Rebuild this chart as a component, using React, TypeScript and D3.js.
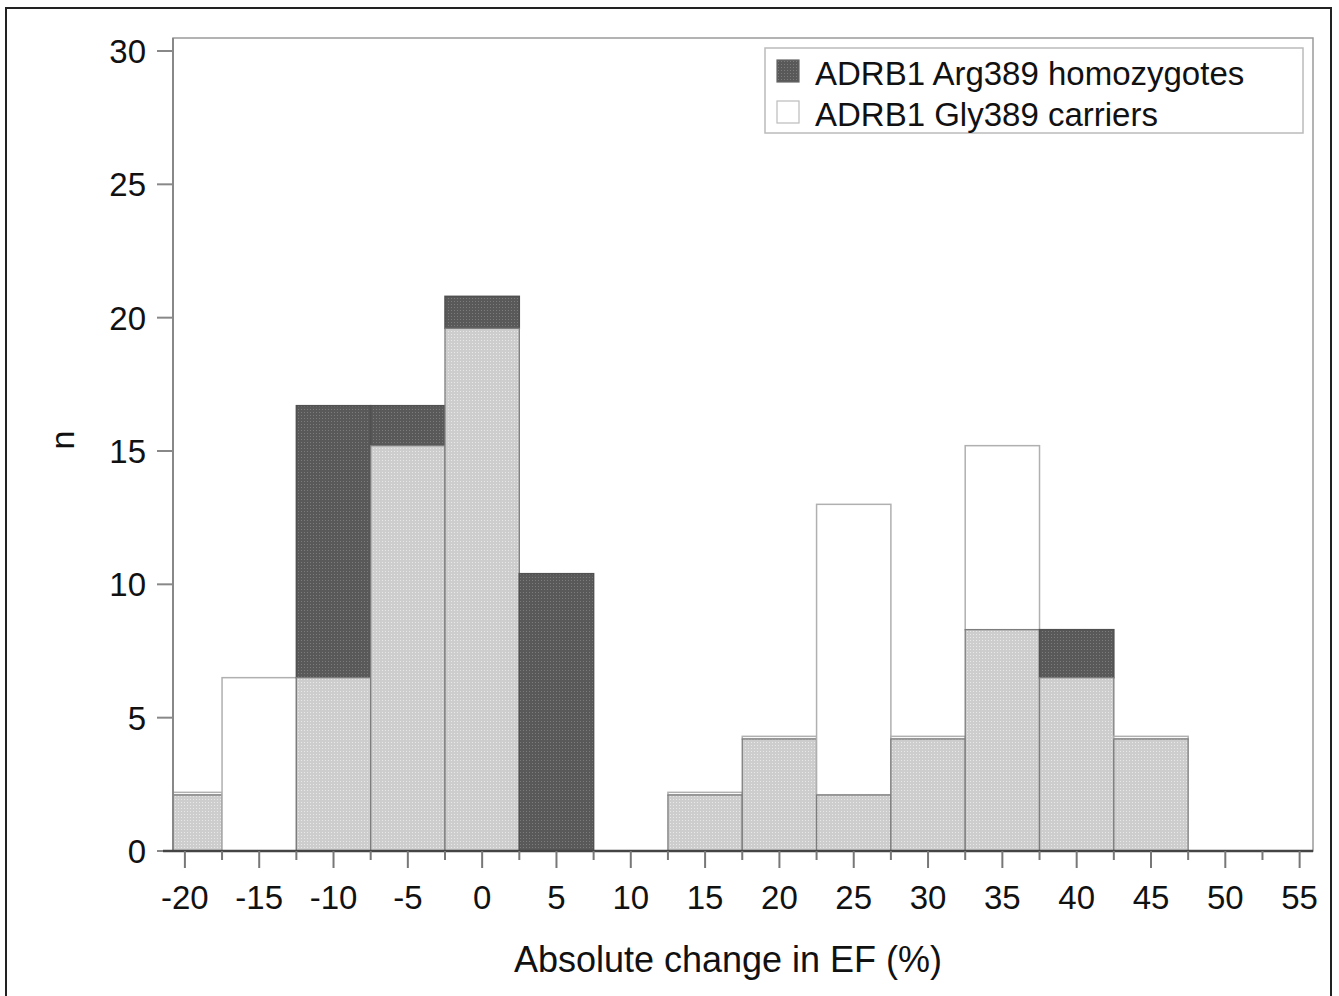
import React, { useEffect, useRef } from 'react'
import { select, scaleLinear, range } from 'd3'

// bin centres (%), bin width 5
const bins = [-20, -15, -10, -5, 0, 5, 10, 15, 20, 25, 30, 35, 40, 45, 50, 55]
// percent of each genotype group per bin
const argValues = [2.1, 0, 16.7, 16.7, 20.8, 10.4, 0, 2.1, 4.2, 2.1, 4.2, 8.3, 8.3, 4.2, 0, 0]
const glyValues = [2.2, 6.5, 6.5, 15.2, 19.6, 0, 0, 2.2, 4.3, 13.0, 4.3, 15.2, 6.5, 4.3, 0, 0]
const xTicks = [-20, -15, -10, -5, 0, 5, 10, 15, 20, 25, 30, 35, 40, 45, 50, 55]
const yTicks = [0, 5, 10, 15, 20, 25, 30]
const legendLabels = ['ADRB1 Arg389 homozygotes', 'ADRB1 Gly389 carriers']

function App() {
    const ref = useRef(null)

    useEffect(() => {
        const svg = select(ref.current)
        svg.selectAll('*').remove()

        const left = 173, right = 1313, top = 38, bottom = 851

        const x = scaleLinear().domain([-20.8, 55.9]).range([left, right])
        const y = scaleLinear().domain([0, 30]).range([bottom, 51])

        // stipple patterns
        const defs = svg.append('defs')
        const light = defs.append('pattern').attr('id', 'lightPat')
            .attr('patternUnits', 'userSpaceOnUse').attr('width', 3).attr('height', 3)
        light.append('rect').attr('width', 3).attr('height', 3).attr('fill', '#cdcdcd')
        light.append('rect').attr('x', 1).attr('y', 1).attr('width', 1).attr('height', 1).attr('fill', '#e8e8e8')
        const dark = defs.append('pattern').attr('id', 'darkPat')
            .attr('patternUnits', 'userSpaceOnUse').attr('width', 3).attr('height', 3)
        dark.append('rect').attr('width', 3).attr('height', 3).attr('fill', '#595959')
        dark.append('rect').attr('x', 1).attr('y', 1).attr('width', 1).attr('height', 1).attr('fill', '#7c7c7c')

        // outer frame
        svg.append('rect')
            .attr('x', 6).attr('y', 8).attr('width', 1325).attr('height', 1000)
            .attr('fill', 'none').attr('stroke', '#222').attr('stroke-width', 2)

        // plot frame
        svg.append('rect')
            .attr('x', left).attr('y', top).attr('width', right - left).attr('height', bottom - top)
            .attr('fill', '#fff').attr('stroke', '#9a9a9a').attr('stroke-width', 1.5)

        const clamp = v => Math.max(left, Math.min(right, v))
        const g = svg.append('g')

        bins.forEach((b, i) => {
            const a = argValues[i], gl = glyValues[i]
            const x0 = clamp(x(b - 2.5)), x1 = clamp(x(b + 2.5))
            const lo = Math.min(a, gl), hi = Math.max(a, gl)
            if (hi > lo) {
                const isArg = a > gl
                g.append('rect')
                    .attr('x', x0).attr('width', x1 - x0)
                    .attr('y', y(hi)).attr('height', y(lo) - y(hi))
                    .attr('fill', isArg ? 'url(#darkPat)' : '#fff')
                    .attr('stroke', isArg ? '#505050' : '#b0b0b0')
                    .attr('stroke-width', 1.5)
            }
            if (lo > 0) {
                g.append('rect')
                    .attr('x', x0).attr('width', x1 - x0)
                    .attr('y', y(lo)).attr('height', y(0) - y(lo))
                    .attr('fill', 'url(#lightPat)')
                    .attr('stroke', '#7d7d7d')
                    .attr('stroke-width', 1.3)
            }
        })

        const font = 'Liberation Sans, Arial, sans-serif'

        // y axis
        svg.append('line').attr('x1', left).attr('x2', left).attr('y1', top).attr('y2', bottom)
            .attr('stroke', '#888').attr('stroke-width', 2)
        yTicks.forEach(t => {
            svg.append('line').attr('x1', 157).attr('x2', left).attr('y1', y(t)).attr('y2', y(t))
                .attr('stroke', '#888').attr('stroke-width', 2)
            svg.append('text').attr('x', 146).attr('y', y(t) + 12)
                .attr('text-anchor', 'end').attr('font-family', font).attr('font-size', 33)
                .attr('fill', '#111').text(t)
        })

        // x axis
        svg.append('line').attr('x1', left - 10).attr('x2', right).attr('y1', bottom).attr('y2', bottom)
            .attr('stroke', '#444').attr('stroke-width', 2.5)
        xTicks.forEach(t => {
            svg.append('line').attr('x1', x(t)).attr('x2', x(t)).attr('y1', bottom).attr('y2', bottom + 17)
                .attr('stroke', '#777').attr('stroke-width', 2)
            svg.append('text').attr('x', x(t)).attr('y', 909)
                .attr('text-anchor', 'middle').attr('font-family', font).attr('font-size', 33)
                .attr('fill', '#111').text(t)
        })
        range(-17.5, 55, 5).forEach(t => {
            svg.append('line').attr('x1', x(t)).attr('x2', x(t)).attr('y1', bottom).attr('y2', bottom + 9)
                .attr('stroke', '#777').attr('stroke-width', 2)
        })

        // axis titles
        svg.append('text').attr('x', 728).attr('y', 972)
            .attr('text-anchor', 'middle').attr('font-family', font).attr('font-size', 36)
            .attr('fill', '#111').text('Absolute change in EF (%)')
        svg.append('text').attr('transform', 'translate(74,440) rotate(-90)')
            .attr('text-anchor', 'middle').attr('font-family', font).attr('font-size', 34)
            .attr('fill', '#111').text('n')

        // legend
        const lg = svg.append('g')
        lg.append('rect').attr('x', 765).attr('y', 48).attr('width', 538).attr('height', 85)
            .attr('fill', '#fff').attr('stroke', '#bbb').attr('stroke-width', 1.5)
        legendLabels.forEach((label, i) => {
            lg.append('rect').attr('x', 777).attr('y', 60 + i * 41).attr('width', 22).attr('height', 22)
                .attr('fill', i === 0 ? 'url(#darkPat)' : '#fff')
                .attr('stroke', i === 0 ? '#666' : '#bbb').attr('stroke-width', 1.2)
            lg.append('text').attr('x', 815).attr('y', 85 + i * 41)
                .attr('font-family', font).attr('font-size', 33).attr('fill', '#111').text(label)
        })
    }, [])

    return (
        <svg ref={ref} width={1339} height={996}
            style={{ position: 'absolute', left: 0, top: 0, background: '#fff' }}></svg>
    )
}

export default App
